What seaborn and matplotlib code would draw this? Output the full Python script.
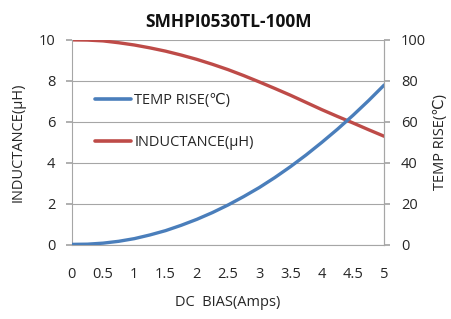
import pandas as pd
import matplotlib.pyplot as plt
import seaborn as sns
from matplotlib.lines import Line2D

# data
dc_bias = [0, 0.25, 0.5, 0.75, 1, 1.25, 1.5, 1.75, 2, 2.25, 2.5,
           2.75, 3, 3.25, 3.5, 3.75, 4, 4.25, 4.5, 4.75, 5]
inductance = [10, 9.99, 9.95, 9.86, 9.75, 9.61, 9.45, 9.26, 9.05, 8.81, 8.55,
              8.26, 7.95, 7.63, 7.3, 6.95, 6.6, 6.27, 5.95, 5.62, 5.3]
temp_rise = [0.3, 0.4, 0.9, 1.8, 3.1, 4.9, 7.0, 9.6, 12.5, 15.8, 19.5,
             23.6, 28.0, 32.9, 38.2, 43.9, 50.0, 56.4, 63.2, 70.4, 78.0]
x_ticks = [0, 0.5, 1, 1.5, 2, 2.5, 3, 3.5, 4, 4.5, 5]
x_labels = ["0", "0.5", "1", "1.5", "2", "2.5", "3", "3.5", "4", "4.5", "5"]

df = pd.DataFrame({"bias": dc_bias, "ind": inductance, "temp": temp_rise})

sns.set_theme(style="white")
plt.rcParams["font.family"] = ["Open Sans", "DejaVu Sans"]

blue = "#4a7ebb"
red = "#be4b48"
grid_c = "#a6a6a6"
text_c = "#262626"

fig = plt.figure(figsize=(4.52, 3.19), dpi=100)
ax = fig.add_axes([0.159, 0.232, 0.691, 0.643])
ax2 = ax.twinx()

sns.lineplot(data=df, x="bias", y="ind", ax=ax, color=red, linewidth=2.4)
sns.lineplot(data=df, x="bias", y="temp", ax=ax2, color=blue, linewidth=2.4)

ax.set_xlim(0, 5)
ax.set_ylim(0, 10)
ax2.set_ylim(0, 100)
ax.set_yticks([0, 2, 4, 6, 8, 10])
ax2.set_yticks([0, 20, 40, 60, 80, 100])
ax.set_xticks(x_ticks)
ax.set_xticklabels(x_labels)

ax.grid(axis="y", color=grid_c, linewidth=0.8)
ax.set_axisbelow(True)
for a in (ax, ax2):
    a.spines["top"].set_visible(False)
    for s in ("left", "right", "bottom"):
        a.spines[s].set_color(grid_c)
        a.spines[s].set_linewidth(0.8)
ax2.spines["left"].set_visible(False)
ax2.spines["bottom"].set_visible(False)

ax.tick_params(axis="x", direction="out", length=4, color=grid_c, pad=12,
               labelsize=10.5, labelcolor=text_c)
ax.tick_params(axis="y", length=4, color=grid_c, pad=8, labelsize=10.5, labelcolor=text_c)
ax2.tick_params(axis="y", length=4, color=grid_c, pad=8, labelsize=10.5, labelcolor=text_c)

ax.set_xlabel("DC  BIAS(Amps)", fontsize=10.5, color=text_c, labelpad=9)
ax.set_ylabel("INDUCTANCE(μH)", fontsize=10.5, color=text_c, labelpad=9)
ax2.set_ylabel("TEMP RISE(℃)", fontsize=10.5, color=text_c, labelpad=5, rotation=90)

ax.set_title("SMHPI0530TL-100M", fontsize=12.5, fontweight="bold", color="#111111", pad=9)

handles = [Line2D([0], [0], color=blue, linewidth=2.6),
           Line2D([0], [0], color=red, linewidth=2.6)]
ax.legend(handles, ["TEMP RISE(℃)", "INDUCTANCE(μH)"], loc="upper left",
          bbox_to_anchor=(0.074, 0.74), frameon=False, fontsize=10.5,
          borderpad=0, borderaxespad=0,
          handlelength=2.5, handletextpad=0.2, labelspacing=1.85,
          labelcolor=text_c)

fig.savefig("out.png", dpi=100)
